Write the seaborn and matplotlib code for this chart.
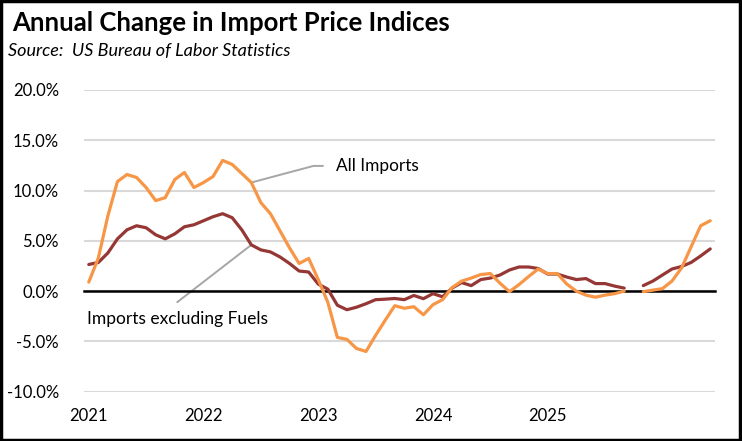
"""Annual change in import price indices, recreated with seaborn."""

import matplotlib

matplotlib.use("Agg")

import matplotlib.pyplot as plt
import numpy as np
import pandas as pd
import seaborn as sns
from matplotlib.patches import Rectangle

# monthly data, Jan 2021 .. Jun 2026 (Oct 2025 missing)
months = pd.period_range("2021-01", "2026-06", freq="M")

all_imports = [
    0.9, 3.3, 7.5, 10.9, 11.6, 11.3, 10.3, 9.0, 9.3, 11.1, 11.8, 10.3,
    10.8, 11.4, 13.0, 12.6, 11.7, 10.8, 8.8, 7.7, 6.0, 4.3, 2.75, 3.25,
    1.15, -1.1, -4.6, -4.8, -5.7, -6.0, -4.4, -2.9, -1.45, -1.7, -1.55, -2.35,
    -1.35, -0.85, 0.35, 1.0, 1.3, 1.65, 1.75, 0.8, -0.05, 0.65, 1.45, 2.2,
    1.75, 1.75, 0.7, 0.0, -0.4, -0.6, -0.4, -0.25, 0.0, np.nan, -0.05, 0.1,
    0.25, 1.0, 2.3, 4.4, 6.5, 7.0,
]

ex_fuels = [
    2.65, 2.85, 3.8, 5.2, 6.1, 6.5, 6.3, 5.6, 5.2, 5.7, 6.4, 6.6,
    7.0, 7.4, 7.7, 7.3, 6.1, 4.6, 4.1, 3.9, 3.4, 2.75, 2.0, 1.9,
    0.7, 0.2, -1.4, -1.85, -1.6, -1.25, -0.85, -0.8, -0.73, -0.85, -0.43, -0.75,
    -0.25, -0.56, 0.3, 0.85, 0.55, 1.15, 1.3, 1.6, 2.1, 2.4, 2.4, 2.25,
    1.7, 1.7, 1.4, 1.15, 1.25, 0.75, 0.75, 0.5, 0.3, np.nan, 0.55, 1.0,
    1.6, 2.2, 2.45, 2.85, 3.5, 4.2,
]

series_order = ["Imports excluding Fuels", "All Imports"]
palette = {"All Imports": "#F79646", "Imports excluding Fuels": "#953735"}
year_labels = ["2021", "2022", "2023", "2024", "2025"]
y_ticks = [-10, -5, 0, 5, 10, 15, 20]


def to_long(name, values):
    vals = np.array(values, dtype=float)
    out = pd.DataFrame({
        "pos": np.arange(len(vals)),
        "value": vals,
        "series": name,
        # new segment after every missing month -> gap in the line
        "segment": np.cumsum(np.isnan(vals)),
    })
    return out.dropna(subset=["value"])


df = pd.concat([
    to_long("Imports excluding Fuels", ex_fuels),
    to_long("All Imports", all_imports),
])

sns.set_theme(style="white")
plt.rcParams["font.family"] = ["Lato", "DejaVu Sans"]

fig = plt.figure(figsize=(7.42, 4.41), dpi=100)
ax = fig.add_axes([84 / 742, 1 - 391.7 / 441, 631 / 742, 301.7 / 441])

sns.lineplot(
    data=df, x="pos", y="value", hue="series", hue_order=series_order,
    units="segment", estimator=None, palette=palette, linewidth=2.3,
    legend=False, ax=ax,
)

ax.set_xlim(-0.5, len(months) - 0.5)
ax.set_ylim(-10, 20)
ax.set_xlabel("")
ax.set_ylabel("")

# horizontal gridlines, axis line at zero
ax.set_yticks(y_ticks)
ax.set_yticklabels([f"{v:.1f}%" for v in y_ticks])
ax.yaxis.grid(True, color="#D9D9D9", linewidth=1.5)
ax.set_axisbelow(True)
ax.tick_params(axis="y", length=0, pad=18, labelsize=12, labelcolor="black")
for side in ["left", "right", "top"]:
    ax.spines[side].set_visible(False)
ax.spines["bottom"].set_position(("data", 0))
ax.spines["bottom"].set_color("black")
ax.spines["bottom"].set_linewidth(1.8)
ax.spines["bottom"].set_zorder(1.5)

# tick marks between Dec / Jan, year labels under the plot
jan_pos = [i for i, p in enumerate(months) if p.month == 1]
ax.set_xticks([p - 0.5 for p in jan_pos])
ax.tick_params(axis="x", direction="inout", length=9, width=1.8,
               color="black", labelbottom=False)
for i, p in enumerate(months):
    if p.month == 1 and str(p.year) in year_labels:
        ax.text(i, -0.08, str(p.year), transform=ax.get_xaxis_transform(),
                ha="center", va="center", fontsize=12, color="black")

# callouts
lead = "#A6A6A6"
ax.plot([17, 23.5, 24.5], [10.8, 12.45, 12.45], color=lead, lw=1.4, zorder=1)
ax.text(25.9, 12.45, "All Imports", ha="left", va="center",
        fontsize=12.4, color="black")
ax.plot([17, 9.25], [4.6, -1.1], color=lead, lw=1.4, zorder=1)
ax.text(-0.2, -2.75, "Imports excluding Fuels", ha="left", va="center",
        fontsize=12.5, color="black")

fig.text(12 / 742, 1 - 31 / 441, "Annual Change in Import Price Indices",
         fontsize=18.5, fontweight="bold", va="baseline", color="black")
fig.text(8 / 742, 1 - 56 / 441, "Source:  US Bureau of Labor Statistics",
         fontsize=13, fontstyle="italic", va="baseline", color="black")

fig.patches.append(Rectangle((0.001, 0.002), 0.996, 0.996, transform=fig.transFigure,
                             fill=False, edgecolor="black", linewidth=2.5))

fig.savefig("out.png", dpi=100)
plt.close(fig)
